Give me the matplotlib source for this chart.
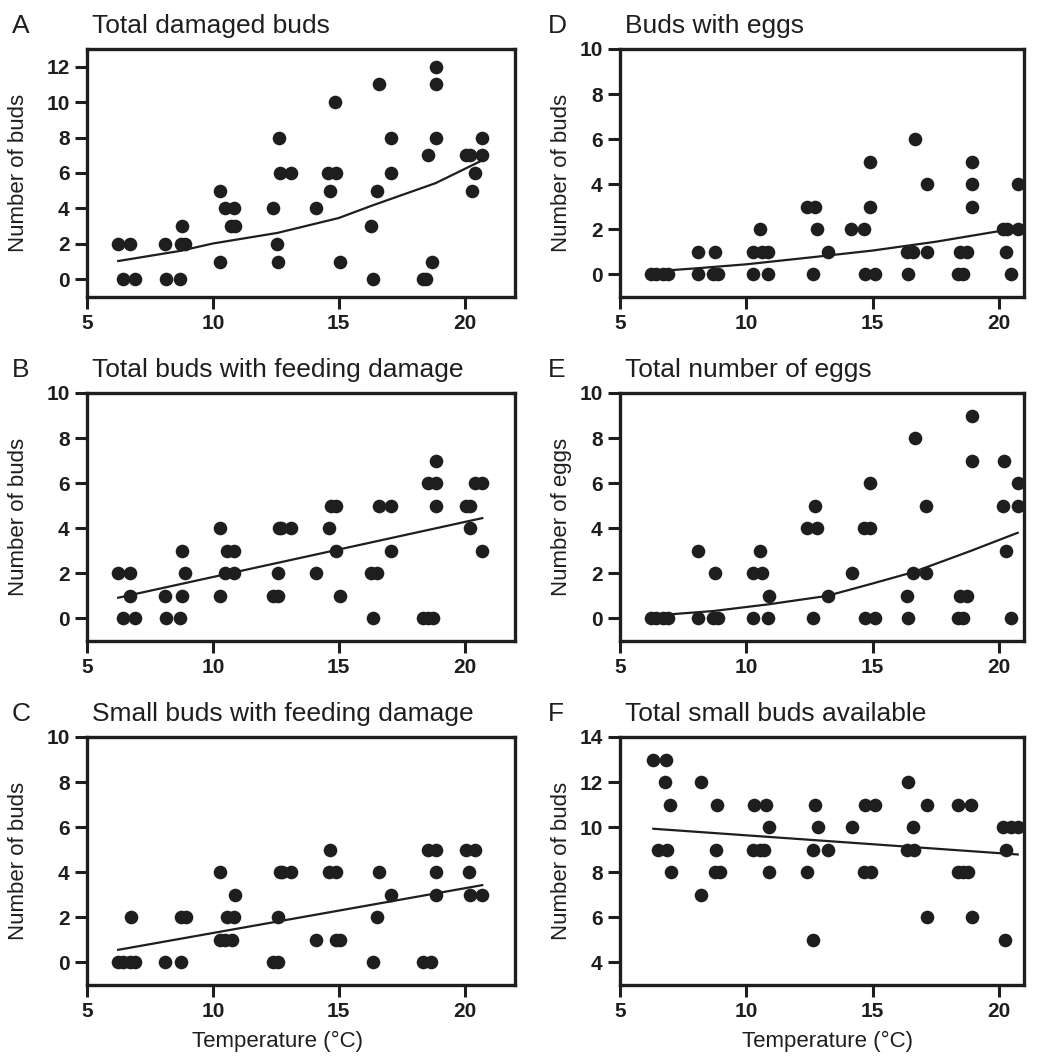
"""
Bud damage and egg counts against temperature (six panels).
"""

import matplotlib
matplotlib.use("Agg")
import matplotlib.pyplot as plt

plt.rcParams["font.family"] = ["Liberation Sans", "DejaVu Sans"]

INK = "#1e1e1e"

# --- A: total damaged buds
temp_a = [6.24, 6.71, 6.44, 6.90, 8.10, 8.12, 8.69, 8.78, 8.75, 8.88,
          10.28, 10.28, 10.50, 10.85, 10.72, 10.87, 12.37, 12.55, 12.59, 12.63,
          12.66, 13.10, 14.11, 14.57, 14.88, 14.64, 14.84, 15.04, 16.30, 16.35,
          16.53, 16.60, 17.09, 17.09, 18.35, 18.48, 18.55, 18.72, 18.85, 18.85,
          18.85, 20.07, 20.23, 20.40, 20.30, 20.70, 20.70]
buds_a = [2, 2, 0, 0, 2, 0, 0, 3, 2, 2,
          5, 1, 4, 4, 3, 3, 4, 2, 1, 8,
          6, 6, 4, 6, 6, 5, 10, 1, 3, 0,
          5, 11, 8, 6, 0, 0, 7, 1, 12, 11,
          8, 7, 7, 6, 5, 8, 7]
fit_a_t = [6.24, 8.69, 10.0, 12.57, 15.0, 16.3, 18.85, 20.75]
fit_a_y = [1.03, 1.60, 2.02, 2.62, 3.46, 4.15, 5.43, 6.75]

# --- B: total buds with feeding damage
temp_b = [6.24, 6.71, 6.71, 6.44, 6.90, 8.10, 8.12, 8.69, 8.78, 8.90, 8.78,
          10.28, 10.28, 10.50, 10.82, 10.55, 10.84, 12.37, 12.59, 12.57, 12.62,
          12.72, 13.10, 14.11, 14.60, 14.70, 14.88, 14.88, 15.04, 16.30, 16.53,
          16.35, 16.60, 17.09, 17.09, 18.35, 18.55, 18.75, 18.55, 18.85, 18.85,
          18.85, 20.07, 20.20, 20.20, 20.40, 20.70, 20.70]
buds_b = [2, 2, 1, 0, 0, 1, 0, 0, 3, 2, 1,
          4, 1, 2, 2, 3, 3, 1, 1, 2, 4,
          4, 4, 2, 4, 5, 5, 3, 1, 2, 2,
          0, 5, 5, 3, 0, 0, 0, 6, 6, 7,
          5, 5, 5, 4, 6, 6, 3]
fit_b_t = [6.24, 20.70]
fit_b_y = [0.92, 4.45]

# --- C: small buds with feeding damage
temp_c = [6.24, 6.44, 6.71, 6.90, 6.73, 8.10, 8.73, 8.75, 8.92,
          10.28, 10.28, 10.50, 10.74, 10.55, 10.84, 10.87, 12.37, 12.59, 12.57,
          12.66, 12.75, 13.10, 14.11, 14.64, 14.60, 14.88, 14.88, 15.04, 16.35,
          16.53, 16.60, 17.09, 18.35, 18.68, 18.55, 18.85, 18.85, 18.85, 20.07,
          20.40, 20.18, 20.23, 20.70]
buds_c = [0, 0, 0, 0, 2, 0, 0, 2, 2,
          4, 1, 1, 1, 2, 2, 3, 0, 0, 2,
          4, 4, 4, 1, 5, 4, 4, 1, 1, 0,
          2, 4, 3, 0, 0, 5, 5, 4, 3, 5,
          5, 4, 3, 3]
fit_c_t = [6.24, 20.70]
fit_c_y = [0.56, 3.43]

# --- D: buds with eggs
temp_d = [6.24, 6.44, 6.71, 6.90, 8.10, 8.10, 8.69, 8.88, 8.78,
          10.54, 10.28, 10.61, 10.87, 10.28, 10.87, 12.39, 12.72, 12.66, 12.82,
          13.23, 14.15, 14.66, 14.90, 14.90, 14.70, 15.10, 16.42, 16.36, 16.62,
          16.69, 17.15, 17.15, 18.40, 18.60, 18.46, 18.76, 18.93, 18.93, 18.93,
          20.18, 20.31, 20.77, 20.29, 20.47, 20.77]
buds_d = [0, 0, 0, 0, 1, 0, 0, 0, 1,
          2, 1, 1, 1, 0, 0, 3, 3, 0, 2,
          1, 2, 2, 5, 3, 0, 0, 0, 1, 1,
          6, 4, 1, 0, 0, 1, 1, 5, 4, 3,
          2, 2, 2, 1, 0, 4]
fit_d_t = [6.24, 8.0, 10.0, 12.66, 15.0, 17.5, 20.70]
fit_d_y = [0.13, 0.27, 0.45, 0.77, 1.06, 1.45, 2.05]

# --- E: total number of eggs
temp_e = [6.24, 6.44, 6.71, 6.90, 8.10, 8.10, 8.75, 8.70, 8.88,
          10.28, 10.64, 10.54, 10.90, 10.28, 10.87, 12.39, 12.82, 12.72, 12.66,
          13.23, 14.20, 14.66, 14.90, 14.90, 14.70, 15.10, 16.36, 16.42, 16.60,
          16.67, 17.12, 17.12, 18.40, 18.60, 18.46, 18.76, 18.93, 18.93, 20.20,
          20.18, 20.29, 20.47, 20.75, 20.75]
eggs_e = [0, 0, 0, 0, 3, 0, 2, 0, 0,
          2, 2, 3, 1, 0, 0, 4, 4, 5, 0,
          1, 2, 4, 4, 6, 0, 0, 1, 0, 2,
          8, 2, 5, 0, 0, 1, 1, 9, 7, 7,
          5, 3, 0, 6, 5]
fit_e_t = [6.24, 8.7, 10.9, 13.2, 15.0, 16.6, 18.9, 20.75]
fit_e_y = [0.12, 0.33, 0.63, 1.00, 1.55, 2.05, 3.00, 3.80]

# --- F: total small buds available
temp_f = [6.32, 6.82, 6.78, 6.98, 6.52, 6.85, 7.00, 8.19, 8.19, 8.83, 8.80,
          8.76, 8.96, 10.32, 10.78, 10.28, 10.54, 10.70, 10.90, 10.90, 12.42,
          12.66, 12.72, 12.83, 12.63, 13.23, 14.18, 14.70, 15.10, 14.66, 14.93,
          16.40, 16.36, 16.65, 16.60, 17.15, 17.15, 18.40, 18.89, 18.40, 18.60,
          18.80, 18.93, 20.18, 20.50, 20.77, 20.29, 20.25]
buds_f = [13, 13, 12, 11, 9, 9, 8, 12, 7, 11, 9,
          8, 8, 11, 11, 9, 9, 9, 10, 8, 8,
          9, 11, 10, 5, 9, 10, 11, 11, 8, 8,
          12, 9, 9, 10, 11, 6, 11, 11, 8, 8,
          8, 6, 10, 10, 10, 9, 5]
fit_f_t = [6.32, 20.75]
fit_f_y = [9.93, 8.79]

panels = [
    # letter, title, x, y, fit x, fit y, ylabel, ylim, yticks, column, row
    ("A", "Total damaged buds", temp_a, buds_a, fit_a_t, fit_a_y,
     "Number of buds", (-1, 13), range(0, 13, 2), 0, 0),
    ("B", "Total buds with feeding damage", temp_b, buds_b, fit_b_t, fit_b_y,
     "Number of buds", (-1, 10), range(0, 11, 2), 0, 1),
    ("C", "Small buds with feeding damage", temp_c, buds_c, fit_c_t, fit_c_y,
     "Number of buds", (-1, 10), range(0, 11, 2), 0, 2),
    ("D", "Buds with eggs", temp_d, buds_d, fit_d_t, fit_d_y,
     "Number of buds", (-1, 10), range(0, 11, 2), 1, 0),
    ("E", "Total number of eggs", temp_e, eggs_e, fit_e_t, fit_e_y,
     "Number of eggs", (-1, 10), range(0, 11, 2), 1, 1),
    ("F", "Total small buds available", temp_f, buds_f, fit_f_t, fit_f_y,
     "Number of buds", (3, 14), range(4, 15, 2), 1, 2),
]

W, H = 1043, 1056
fig = plt.figure(figsize=(W / 100, H / 100), dpi=100)

# pixel boxes of the axes
cols = [(87, 515, 22), (620, 1024, 21)]   # left, right, x max
rows = [(49, 297), (393, 641), (737, 985)]
ylab_x = [29, 572]      # right edge of the rotated y label
letter_x = [12, 548]
xlab_x = [277, 827]

for letter, title, x, y, fx, fy, ylabel, ylim, yticks, c, r in panels:
    x0, x1, xmax = cols[c]
    y0, y1 = rows[r]
    aw, ah = x1 - x0, y1 - y0
    ax = fig.add_axes([x0 / W, 1 - y1 / H, aw / W, ah / H])

    ax.plot(x, y, "o", color=INK, ms=9.8, mew=0, zorder=3)
    ax.plot(fx, fy, "-", color=INK, lw=1.6, zorder=2)

    ax.set_xlim(5, xmax)
    ax.set_ylim(*ylim)
    ax.set_xticks([5, 10, 15, 20])
    ax.set_yticks(list(yticks))
    ax.tick_params(direction="out", length=8.5, width=2.2, color=INK,
                   labelsize=15, pad=4, labelcolor=INK)
    for lab in ax.get_xticklabels() + ax.get_yticklabels():
        lab.set_fontweight("bold")
    for sp in ax.spines.values():
        sp.set_linewidth(2.4)
        sp.set_color(INK)

    ax.set_ylabel(ylabel, fontsize=16, color=INK)
    ax.yaxis.set_label_coords((ylab_x[c] - x0) / aw, 0.5)
    if r == 2:
        ax.set_xlabel("Temperature (\u00b0C)", fontsize=16, color=INK)
        ax.xaxis.set_label_coords((xlab_x[c] - x0) / aw, -46 / ah)

    ax.text((letter_x[c] - x0) / aw, 1 + 16 / ah, letter, transform=ax.transAxes,
            fontsize=19, color=INK, ha="left", va="baseline")
    ax.text(5 / aw, 1 + 16 / ah, title, transform=ax.transAxes,
            fontsize=19, color=INK, ha="left", va="baseline")

fig.savefig("out.png", dpi=100)
